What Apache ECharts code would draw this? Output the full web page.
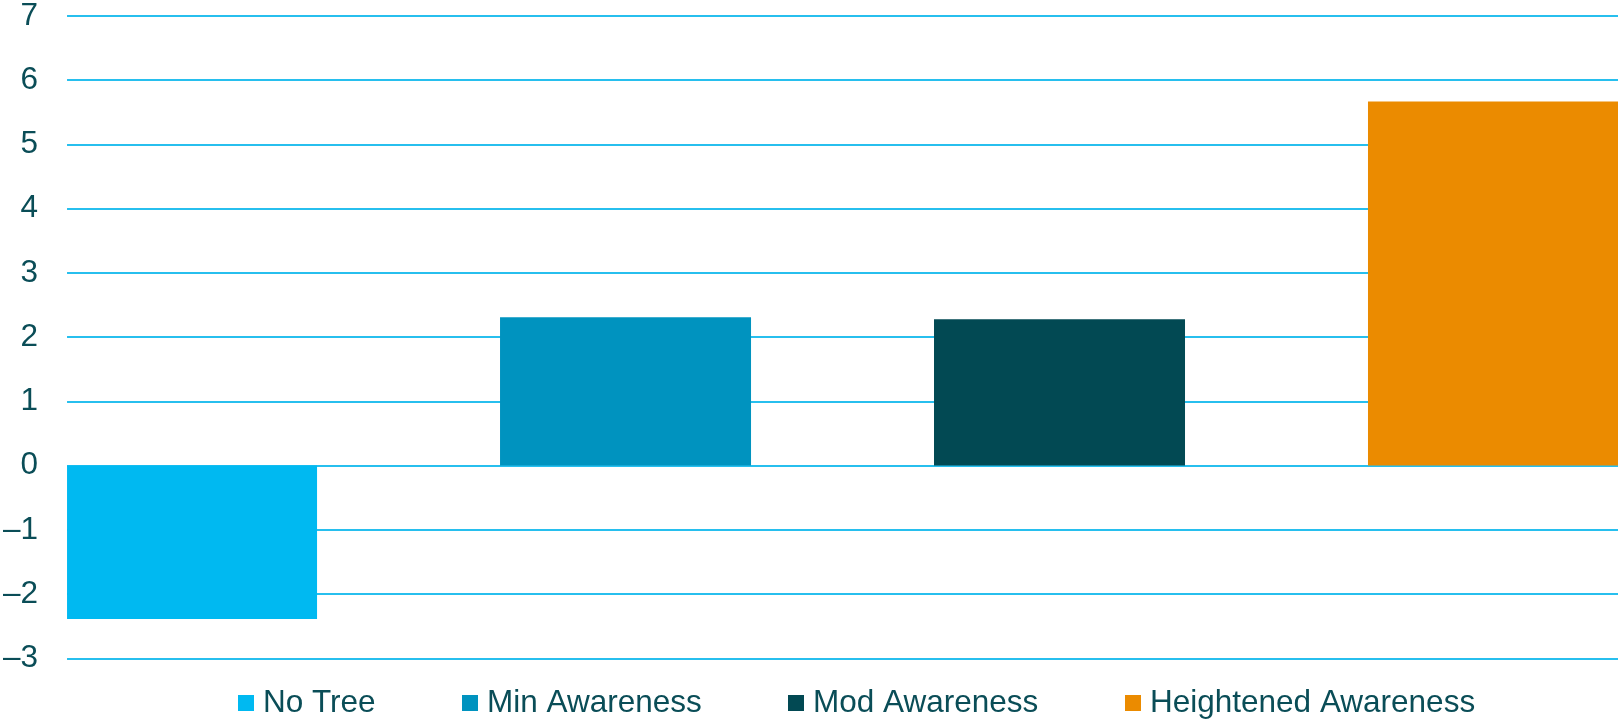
<!DOCTYPE html>
<html>
<head>
<meta charset="utf-8">
<script src="https://cdn.jsdelivr.net/npm/echarts@6/dist/echarts.min.js"></script>
<style>
html,body{margin:0;padding:0;background:#fff;}
#chart{width:1620px;height:721px;}
</style>
</head>
<body>
<div id="chart"></div>
<script>
const seriesNames = ['No Tree', 'Min Awareness', 'Mod Awareness', 'Heightened Awareness'];
const seriesValues = [-2.39, 2.31, 2.28, 5.67];
const seriesColors = ['#00B9F1', '#0093BF', '#024953', '#EB8B00'];
const categories = [''];
const yTicks = { min: -3, max: 7, interval: 1 };

const textColor = '#0A4D57';
const legendLefts = [238, 462, 788, 1125];

const chart = echarts.init(document.getElementById('chart'), null, { renderer: 'canvas' });

const series = seriesNames.map((name, i) => ({
  name: name,
  type: 'bar',
  data: [seriesValues[i]],
  barWidth: 251,
  barGap: '72.9%',
  itemStyle: { color: seriesColors[i] },
  emphasis: { disabled: true },
  animation: false
}));

const legends = seriesNames.map((name, i) => ({
  data: [name],
  left: legendLefts[i],
  top: 687,
  padding: 0,
  icon: 'rect',
  itemWidth: 16,
  itemHeight: 16,
  selectedMode: false,
  textStyle: {
    color: textColor,
    fontSize: 31.5,
    lineHeight: 32,
    fontFamily: '"Liberation Sans", Arial, sans-serif',
    padding: [0, 0, 0, 4]
  }
}));

chart.setOption({
  animation: false,
  grid: { left: 65, right: 2, top: 15.7, bottom: 62.7, containLabel: false },
  legend: legends,
  xAxis: {
    type: 'category',
    data: categories,
    axisLine: { show: false },
    axisTick: { show: false },
    axisLabel: { show: false },
    splitLine: { show: false }
  },
  yAxis: {
    type: 'value',
    min: yTicks.min,
    max: yTicks.max,
    interval: yTicks.interval,
    axisLine: { show: false },
    axisTick: { show: false },
    splitLine: { show: true, lineStyle: { color: '#27BFEE', width: 2 } },
    axisLabel: {
      color: textColor,
      fontSize: 31.5,
      fontFamily: '"Liberation Sans", Arial, sans-serif',
      margin: 29,
      formatter: v => String(v).replace('-', '\u2013')
    }
  },
  series: series
});
</script>
</body>
</html>
